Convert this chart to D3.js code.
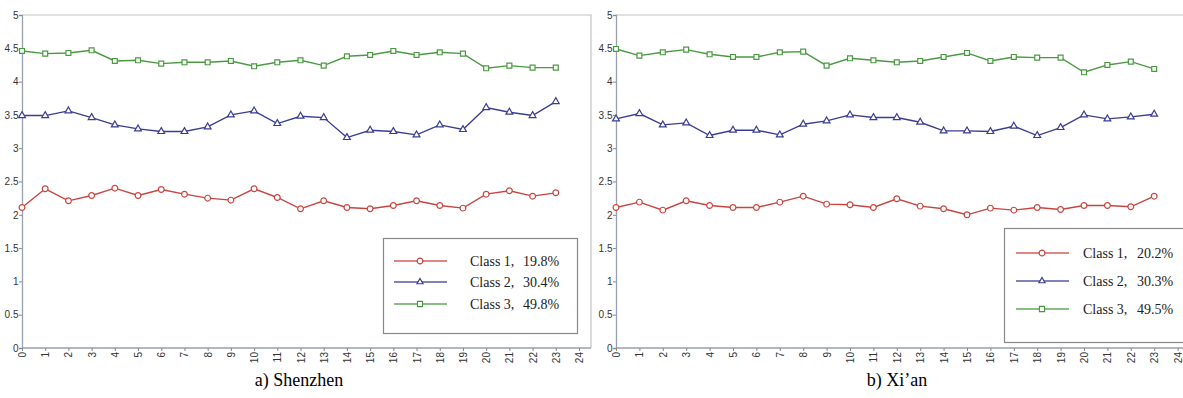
<!DOCTYPE html>
<html>
<head>
<meta charset="utf-8">
<script src="https://cdn.jsdelivr.net/npm/d3@7"></script>
<style>
  body { margin: 0; background: #fff; }
  svg { display: block; }
  .serif { font-family: "Liberation Serif", "Times New Roman", "DejaVu Serif", serif; }
</style>
</head>
<body>
<div id="chart-area"></div>
<script>
// hourly mean values per class
const hours = [0,1,2,3,4,5,6,7,8,9,10,11,12,13,14,15,16,17,18,19,20,21,22,23];
const xTicks = [0,1,2,3,4,5,6,7,8,9,10,11,12,13,14,15,16,17,18,19,20,21,22,23,24];
const yTicks = [0,0.5,1,1.5,2,2.5,3,3.5,4,4.5,5];

const classNames = ["Class 1", "Class 2", "Class 3"];

const szClass1 = [2.11,2.39,2.21,2.29,2.40,2.29,2.38,2.31,2.25,2.22,2.39,2.26,2.09,2.21,2.11,2.09,2.14,2.21,2.14,2.10,2.31,2.36,2.28,2.33];
const szClass2 = [3.49,3.49,3.56,3.46,3.35,3.29,3.25,3.25,3.32,3.50,3.56,3.37,3.48,3.46,3.16,3.27,3.25,3.20,3.35,3.28,3.61,3.54,3.49,3.70];
const szClass3 = [4.46,4.42,4.43,4.47,4.31,4.32,4.27,4.29,4.29,4.31,4.23,4.29,4.32,4.24,4.38,4.40,4.46,4.40,4.44,4.42,4.20,4.24,4.21,4.21];
const szShares = ["19.8%", "30.4%", "49.8%"];

const xaClass1 = [2.11,2.19,2.07,2.21,2.14,2.11,2.11,2.19,2.28,2.16,2.15,2.11,2.24,2.13,2.09,2.00,2.10,2.07,2.11,2.08,2.14,2.14,2.12,2.28];
const xaClass2 = [3.44,3.52,3.35,3.38,3.19,3.27,3.27,3.20,3.36,3.41,3.50,3.46,3.46,3.39,3.26,3.26,3.25,3.33,3.19,3.31,3.50,3.44,3.47,3.51];
const xaClass3 = [4.49,4.39,4.44,4.48,4.41,4.37,4.37,4.44,4.45,4.24,4.35,4.32,4.29,4.31,4.37,4.43,4.31,4.37,4.36,4.36,4.14,4.25,4.30,4.19];
const xaShares = ["20.2%", "30.3%", "49.5%"];

var colorList = ["#c8453f", "#3a3d94", "#4a9a41"];
var symbolList = [d3.symbolCircle, d3.symbolTriangle, d3.symbolSquare];
var symbolSize = [26, 20, 24];

const svg = d3.select("#chart-area").append("svg")
  .attr("width", 1183)
  .attr("height", 398);

const panels = [
  { caption: "a) Shenzhen", series: [szClass1, szClass2, szClass3], shares: szShares,
    left: 22, right: 579, frameRight: 591, capX: 299,
    legend: { x: 383, y: 238, w: 194, h: 95, rows: [261, 282, 304], line: 394, text: 470, pct: 523 } },
  { caption: "b) Xi\u2019an", series: [xaClass1, xaClass2, xaClass3], shares: xaShares,
    left: 616, right: 1177.6, frameRight: 1190, capX: 897,
    legend: { x: 1004, y: 228, w: 190, h: 114, rows: [253, 281, 309], line: 1016, text: 1083, pct: 1137 } }
];

const plotTop = 15, plotBottom = 348;
var y = d3.scaleLinear().domain([0, 5]).range([plotBottom, plotTop]);

panels.forEach(function (p) {
  var x = d3.scaleLinear().domain([0, 24]).range([p.left, p.right]);
  const g = svg.append("g");

  // frame top + right
  g.append("path")
    .attr("d", "M" + p.left + "," + plotTop + "H" + p.frameRight + "V" + plotBottom)
    .attr("fill", "none").attr("stroke", "#c4c4c4").attr("stroke-width", 1.2);

  var axisy = d3.axisLeft(y).tickValues(yTicks).tickSize(3).tickFormat(d3.format("~g"));
  var axisx = d3.axisBottom(x).tickValues(xTicks).tickSize(3);

  const gy = g.append("g").attr("transform", "translate(" + p.left + ",0)").call(axisy);
  const gx = g.append("g").attr("transform", "translate(0," + plotBottom + ")").call(axisx);
  gx.select(".domain").attr("d", "M" + p.left + ",0H" + p.frameRight);

  [gy, gx].forEach(function (a) {
    a.attr("font-family", "'Liberation Sans', Arial, sans-serif").attr("font-size", 10);
    a.select(".domain").attr("stroke", "#9a9fae").attr("stroke-width", 1.3);
    a.selectAll(".tick line").attr("stroke", "#888");
    a.selectAll("text").attr("fill", "#333");
  });
  gy.selectAll("text").attr("x", -3.5);
  gx.selectAll("text")
    .attr("transform", "rotate(-90)")
    .attr("text-anchor", "end")
    .attr("x", -4).attr("y", 0).attr("dy", "0.35em");

  var line = d3.line().x(function (d, i) { return x(hours[i]); }).y(function (d) { return y(d); });

  p.series.forEach(function (vals, k) {
    g.append("path")
      .attr("d", line(vals))
      .attr("fill", "none")
      .attr("stroke", colorList[k])
      .attr("stroke-width", 1.4);

    g.selectAll(null).data(vals).enter().append("path")
      .attr("transform", function (d, i) { return "translate(" + x(hours[i]) + "," + y(d) + ")"; })
      .attr("d", d3.symbol().type(symbolList[k]).size(symbolSize[k]))
      .attr("fill", "#fff")
      .attr("stroke", colorList[k])
      .attr("stroke-width", 1.2);
  });

  // legend
  const L = p.legend;
  g.append("rect")
    .attr("x", L.x + 0.5).attr("y", L.y + 0.5)
    .attr("width", L.w).attr("height", L.h)
    .attr("fill", "#fff").attr("stroke", "#888").attr("stroke-width", 1.2);

  classNames.forEach(function (name, k) {
    const ly = L.rows[k];
    g.append("line")
      .attr("x1", L.line).attr("x2", L.line + 53)
      .attr("y1", ly).attr("y2", ly)
      .attr("stroke", colorList[k]).attr("stroke-width", 1.5).attr("opacity", 0.85);
    g.append("path")
      .attr("transform", "translate(" + (L.line + 26) + "," + ly + ")")
      .attr("d", d3.symbol().type(symbolList[k]).size(k == 1 ? 16 : 26))
      .attr("fill", "#fff").attr("stroke", colorList[k]).attr("stroke-width", 1.2);
    const t = g.append("text")
      .attr("class", "serif")
      .attr("x", L.text).attr("y", ly + 4.5)
      .attr("font-size", 14).attr("fill", "#222")
      .text(name + ",");
    t.append("tspan").attr("x", L.pct).text(p.shares[k]);
  });

  svg.append("text")
    .attr("class", "serif")
    .attr("x", p.capX).attr("y", 386)
    .attr("text-anchor", "middle")
    .attr("font-size", 18).attr("fill", "#000")
    .text(p.caption);
});
</script>
</body>
</html>
